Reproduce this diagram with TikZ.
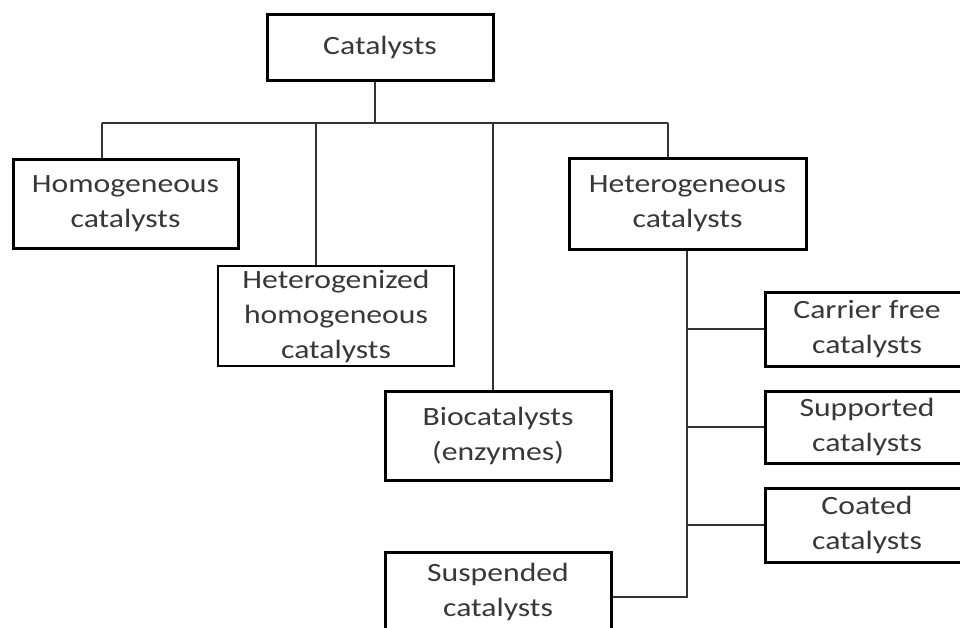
\documentclass[tikz,border=0pt]{standalone}
\usepackage{fontspec}
\setmainfont{Carlito}[FakeStretch=1.2]
\begin{document}
\begin{tikzpicture}[x=1pt,y=-1pt,
  box/.style={draw=black,line width=3pt,fill=white,inner sep=0pt,align=center,
    text=black!78,font=\fontsize{26.4}{35}\selectfont},
  thinbox/.style={box,line width=2.3pt},
  conn/.style={draw=black!80,line width=2pt}]
\useasboundingbox (0,0) rectangle (960,627);
\clip (0,0) rectangle (960,627);
\fill[white] (0,0) rectangle (960,627);
% bus coordinates
\coordinate (bus0) at (375,123);
\coordinate (bus1) at (102,123);
\coordinate (bus2) at (316,123);
\coordinate (bus3) at (493,123);
\coordinate (bus4) at (668,123);
\coordinate (trunkbot) at (687,597);
% boxes
\node[box,minimum width=226,minimum height=66] (cat) at (380,47) {Catalysts};
\node[box,minimum width=225,minimum height=89] (homo) at (125.5,203.5) {Homogeneous\\catalysts};
\node[thinbox,minimum width=236,minimum height=100] (hetz) at (336,316) {Heterogenized\\homogeneous\\catalysts};
\node[box,minimum width=226,minimum height=89] (bio) at (498,435.5) {Biocatalysts\\(enzymes)};
\node[box,minimum width=237,minimum height=91] (het) at (687.5,203.5) {Heterogeneous\\catalysts};
\node[box,minimum width=204,minimum height=74] (carr) at (867,329) {Carrier free\\catalysts};
\node[box,minimum width=204,minimum height=72] (supp) at (867,427) {Supported\\catalysts};
\node[box,minimum width=204,minimum height=74] (coat) at (867,525) {Coated\\catalysts};
\node[box,minimum width=226,minimum height=79] (susp) at (498,591.5) {Suspended\\catalysts};
\coordinate (trunktop) at (het.south -| trunkbot);
% connectors
\draw[conn] (bus0 |- cat.south) -- (bus0);
\draw[conn] (bus1) -- (bus4);
\draw[conn] (bus1) -- (bus1 |- homo.north);
\draw[conn] (bus2) -- (bus2 |- hetz.north);
\draw[conn] (bus3) -- (bus3 |- bio.north);
\draw[conn] (bus4) -- (bus4 |- het.north);
\draw[conn] (trunktop) -- (trunkbot) -- (trunkbot -| susp.east);
\draw[conn] (trunktop |- carr.west) -- (carr.west);
\draw[conn] (trunktop |- supp.west) -- (supp.west);
\draw[conn] (trunktop |- coat.west) -- (coat.west);
\end{tikzpicture}
\end{document}
